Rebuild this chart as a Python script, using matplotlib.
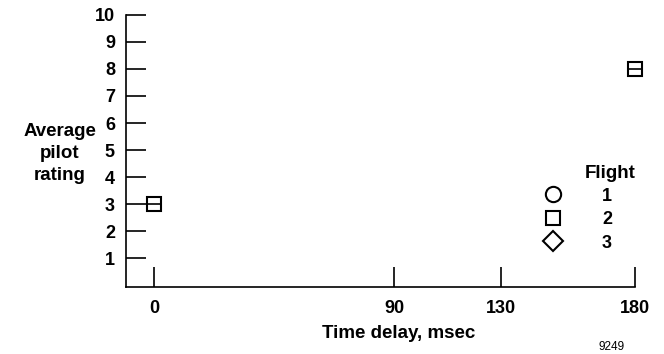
import matplotlib
matplotlib.use('Agg')
import matplotlib.pyplot as plt
from matplotlib.lines import Line2D

# data
time_delay = [0, 180]          # msec
avg_rating = [3, 8]            # average pilot rating
x_ticks = [0, 90, 130, 180]
y_ticks = [1, 2, 3, 4, 5, 6, 7, 8, 9, 10]
flights = ['1', '2', '3']
flight_markers = ['o', 's', 'D']
flight_sizes = [11, 9.5, 10]

plt.rcParams['font.family'] = ['Liberation Sans', 'DejaVu Sans']
plt.rcParams['font.weight'] = 'bold'

fig = plt.figure(figsize=(6.64, 3.54), dpi=100)
ax = fig.add_axes([0.1898, 0.1884, 0.7662, 0.770])

# flight 2 points (square with middle bar)
ax.plot(time_delay, avg_rating, linestyle='none', marker='s', markersize=9.5,
        markerfacecolor='white', markeredgecolor='black', markeredgewidth=1.5,
        clip_on=False, zorder=3)
ax.plot(time_delay, avg_rating, linestyle='none', marker='_', markersize=9.5,
        markeredgecolor='black', markeredgewidth=1.2, clip_on=False, zorder=4)

ax.set_xlim(-10.5, 180)
ax.set_ylim(-0.07, 10)
ax.set_xticks(x_ticks)
ax.set_yticks(y_ticks)

for s in ['top', 'right']:
    ax.spines[s].set_visible(False)
for s in ['left', 'bottom']:
    ax.spines[s].set_linewidth(1.2)

ax.tick_params(axis='both', direction='in', length=14.5, width=1.2,
               labelsize=13)
ax.tick_params(axis='y', pad=8)
ax.tick_params(axis='x', pad=9)

ax.set_xlabel('Time delay, msec', fontsize=13.5, fontweight='bold', va='center')
ax.xaxis.set_label_coords(0.535, -0.168)
ax.set_ylabel('Average\npilot\nrating', fontsize=13.5, fontweight='bold',
              rotation=0, ha='center', va='center', linespacing=1.4)
ax.yaxis.set_label_coords(-0.130, 0.491)

handles = [Line2D([], [], linestyle='none', marker=m, markersize=sz,
                  markerfacecolor='white', markeredgecolor='black',
                  markeredgewidth=1.5)
           for m, sz in zip(flight_markers, flight_sizes)]
leg = ax.legend(handles, flights, loc='upper left', bbox_to_anchor=(0.815, 0.366),
                frameon=False, borderpad=0, borderaxespad=0, handlelength=1.4,
                handletextpad=2.0, labelspacing=0.36,
                prop={'size': 13, 'weight': 'bold'})
ax.text(0.951, 0.419, 'Flight', transform=ax.transAxes, ha='center', va='center',
        fontsize=13.5, fontweight='bold')

fig.text(612 / 664, 1 - 347 / 354, '9249', ha='center', va='center',
         fontsize=8.5, fontweight='normal')

fig.savefig('out.png', dpi=100)
